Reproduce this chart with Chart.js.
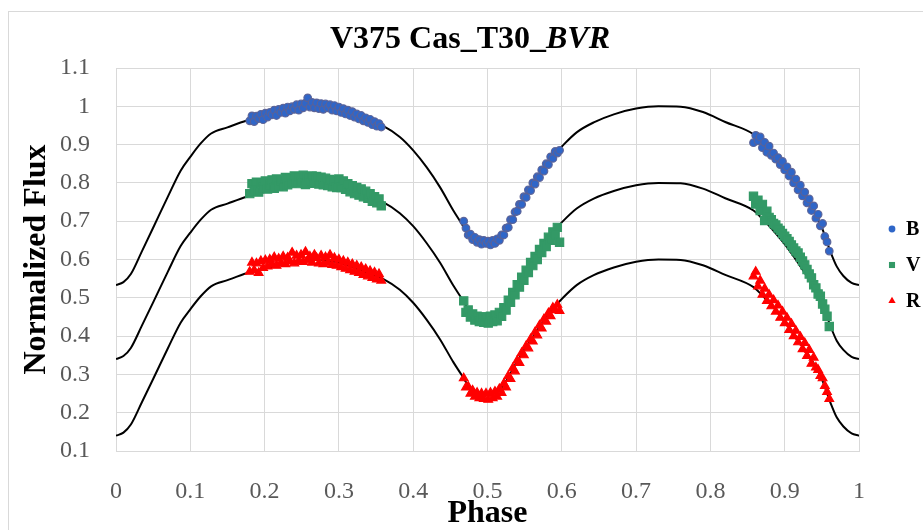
<!DOCTYPE html>
<html>
<head>
<meta charset="utf-8">
<script src="https://cdn.jsdelivr.net/npm/chart.js@4.4.1/dist/chart.umd.min.js"></script>
<style>
  html, body { margin: 0; padding: 0; background: #fff; overflow: hidden; }
  #frame { position: absolute; left: 8px; top: 11px; width: 1000px; height: 1000px; border: 1px solid #d9d9d9; }
  #chart { position: absolute; left: 0; top: 0; }
</style>
</head>
<body>
<div id="frame"></div>
<canvas id="chart" width="923" height="530"></canvas>
<script>
// title and legend text
const titleMain = 'V375 Cas_T30_';
const titleItalic = 'BVR';
const bandNames = ['B', 'V', 'R'];

// axis ticks
const xTickValues = [0, 0.1, 0.2, 0.3, 0.4, 0.5, 0.6, 0.7, 0.8, 0.9, 1];
const xTickLabels = ['0', '0.1', '0.2', '0.3', '0.4', '0.5', '0.6', '0.7', '0.8', '0.9', '1'];
const yTickValues = [0.1, 0.2, 0.3, 0.4, 0.5, 0.6, 0.7, 0.8, 0.9, 1, 1.1];
const yTickLabels = ['0.1', '0.2', '0.3', '0.4', '0.5', '0.6', '0.7', '0.8', '0.9', '1', '1.1'];

// observed phases (same for B, V, R)
const phaseObs = [
  0.180,0.183,0.186,0.189,0.192,0.195,0.198,0.201,0.204,0.207,
  0.210,0.213,0.216,0.219,0.222,0.225,0.228,0.231,0.234,0.237,
  0.240,0.243,0.246,0.249,0.252,0.255,0.258,0.261,0.264,0.267,
  0.270,0.273,0.276,0.279,0.282,0.285,0.288,0.291,0.294,0.297,
  0.300,0.303,0.306,0.309,0.312,0.315,0.318,0.321,0.324,0.327,
  0.330,0.333,0.336,0.339,0.342,0.345,0.348,0.351,0.354,0.357,
  0.468,0.471,0.474,0.477,0.480,0.483,0.486,0.489,0.492,0.495,
  0.498,0.501,0.504,0.507,0.510,0.513,0.516,0.519,0.522,0.525,
  0.528,0.531,0.534,0.537,0.540,0.543,0.546,0.549,0.552,0.555,
  0.558,0.561,0.564,0.567,0.570,0.573,0.576,0.579,0.582,0.585,
  0.588,0.591,0.594,0.597,
  0.858,0.861,0.864,0.867,0.870,0.873,0.876,0.879,0.882,0.885,
  0.888,0.891,0.894,0.897,0.900,0.903,0.906,0.909,0.912,0.915,
  0.918,0.921,0.924,0.927,0.930,0.933,0.936,0.939,0.942,0.945,
  0.948,0.951,0.954,0.957,0.960
];

const fluxB = [
  .962,.975,.960,.974,.968,.979,.965,.982,.972,.984,
  .978,.990,.976,.992,.984,.995,.982,.998,.988,.999,
  .992,1.004,.990,1.006,.996,1.008,1.022,.998,1.010,.996,
  1.009,.994,1.007,.992,1.006,.996,1.004,.990,1.002,.988,
  .998,.984,.994,.980,.990,.976,.986,.972,.980,.967,
  .976,.962,.970,.958,.966,.952,.960,.948,.955,.946,
  .700,.682,.664,.666,.652,.658,.645,.652,.640,.650,
  .642,.648,.638,.650,.642,.654,.650,.664,.664,.682,
  .684,.704,.704,.724,.726,.744,.744,.764,.762,.782,
  .780,.800,.797,.816,.814,.834,.831,.850,.848,.868,
  .864,.882,.878,.885,
  .905,.924,.910,.920,.892,.906,.880,.896,.872,.878,
  .862,.866,.848,.856,.834,.842,.818,.828,.800,.810,
  .782,.794,.766,.776,.748,.758,.728,.740,.708,.718,
  .688,.694,.660,.646,.622
];

const fluxV = [
  .772,.798,.780,.802,.776,.800,.788,.805,.784,.796,
  .808,.786,.810,.792,.806,.790,.814,.795,.812,.800,
  .818,.798,.815,.803,.820,.796,.816,.802,.818,.799,
  .817,.797,.815,.795,.812,.793,.809,.790,.806,.788,
  .810,.788,.805,.783,.798,.777,.793,.772,.788,.768,
  .784,.764,.778,.760,.772,.752,.764,.748,.758,.740,
  .492,.462,.468,.450,.458,.442,.452,.438,.450,.436,
  .450,.434,.452,.438,.455,.440,.462,.452,.474,.468,
  .494,.488,.514,.508,.534,.528,.554,.546,.572,.566,
  .592,.584,.608,.600,.626,.618,.642,.634,.658,.650,
  .672,.664,.684,.645,
  .765,.745,.755,.728,.744,.702,.726,.710,.704,.694,
  .690,.682,.676,.668,.661,.654,.647,.638,.630,.622,
  .617,.606,.596,.586,.574,.562,.552,.534,.526,.510,
  .504,.484,.470,.452,.425
];

const fluxR = [
  .568,.592,.572,.590,.565,.596,.578,.598,.582,.600,
  .588,.606,.584,.602,.590,.608,.588,.605,.595,.618,
  .590,.610,.596,.612,.594,.620,.598,.608,.592,.612,
  .604,.590,.610,.588,.606,.592,.612,.586,.604,.584,
  .600,.580,.596,.576,.592,.572,.588,.568,.584,.565,
  .580,.560,.575,.556,.570,.552,.566,.548,.562,.545,
  .290,.266,.268,.250,.258,.242,.252,.238,.250,.236,
  .250,.234,.252,.238,.255,.242,.262,.252,.276,.266,
  .296,.288,.316,.308,.336,.330,.356,.350,.374,.368,
  .392,.386,.410,.402,.428,.420,.444,.438,.460,.452,
  .474,.468,.482,.466,
  .556,.568,.530,.545,.508,.524,.492,.508,.478,.494,
  .464,.480,.448,.464,.434,.448,.416,.432,.400,.414,
  .384,.398,.366,.382,.348,.364,.328,.344,.318,.312,
  .296,.290,.270,.254,.236
];

// synthetic light curves (model fits)
const phaseModel = [
  0.000,0.010,0.020,0.035,0.050,0.070,0.087,0.100,0.114,0.128,
  0.150,0.176,0.200,0.225,0.250,0.270,0.290,0.310,0.330,0.360,
  0.382,0.400,0.418,0.436,0.454,0.465,0.472,0.480,0.490,0.500,
  0.510,0.520,0.530,0.540,0.550,0.560,0.570,0.580,0.590,0.600,
  0.620,0.643,0.670,0.700,0.730,0.760,0.790,0.820,0.858,0.870,
  0.885,0.900,0.912,0.925,0.939,0.950,0.962,0.970,0.979,0.990,
  1.000
];
const modelB = [
  0.533,0.541,0.562,0.622,0.683,0.765,0.832,0.868,0.903,0.929,
  0.945,0.963,0.976,0.988,0.997,1.000,0.996,0.986,0.971,0.948,
  0.920,0.885,0.841,0.789,0.728,0.694,0.672,0.656,0.647,0.645,
  0.647,0.663,0.695,0.730,0.762,0.792,0.821,0.850,0.874,0.895,
  0.932,0.958,0.979,0.994,1.000,0.999,0.985,0.959,0.927,0.905,
  0.873,0.838,0.805,0.768,0.725,0.683,0.618,0.582,0.557,0.539,
  0.533
];
const modelV = [
  0.340,0.348,0.369,0.428,0.488,0.569,0.635,0.670,0.704,0.730,
  0.746,0.764,0.776,0.788,0.797,0.800,0.796,0.786,0.771,0.749,
  0.721,0.687,0.643,0.592,0.532,0.499,0.477,0.461,0.452,0.450,
  0.452,0.468,0.500,0.534,0.566,0.595,0.624,0.652,0.676,0.697,
  0.733,0.759,0.779,0.794,0.800,0.799,0.785,0.760,0.728,0.706,
  0.675,0.640,0.608,0.571,0.529,0.488,0.424,0.388,0.364,0.346,
  0.340
];
const modelR = [
  0.140,0.148,0.169,0.228,0.288,0.369,0.435,0.470,0.504,0.530,
  0.546,0.564,0.576,0.588,0.597,0.600,0.596,0.586,0.571,0.549,
  0.521,0.487,0.443,0.392,0.332,0.299,0.277,0.261,0.252,0.250,
  0.252,0.268,0.300,0.334,0.366,0.395,0.424,0.452,0.476,0.497,
  0.533,0.559,0.579,0.594,0.600,0.599,0.585,0.560,0.528,0.506,
  0.475,0.440,0.408,0.371,0.329,0.288,0.224,0.188,0.164,0.146,
  0.140
];

const FONT = '"Liberation Serif", "Times New Roman", serif';

function pts(xs, ys) {
  return xs.map((x, i) => ({ x: x, y: ys[i] }));
}

function obsSet(label, ys, style, fill, border, radius) {
  return {
    label: label,
    data: pts(phaseObs, ys),
    showLine: false,
    pointStyle: style,
    pointRadius: radius,
    pointBackgroundColor: fill,
    pointBorderColor: border,
    pointBorderWidth: 1.2,
    backgroundColor: fill,
    borderColor: border,
    order: 0
  };
}

function modelSet(ys) {
  return {
    label: 'model',
    data: pts(phaseModel, ys),
    showLine: true,
    pointRadius: 0,
    borderColor: '#000',
    borderWidth: 2,
    cubicInterpolationMode: 'monotone',
    order: 1
  };
}

// title + small legend on the right
const decorPlugin = {
  id: 'decor',
  afterDraw(chart) {
    const ctx = chart.ctx;
    ctx.save();
    ctx.fillStyle = '#000';
    ctx.textBaseline = 'alphabetic';
    ctx.font = 'bold 32px ' + FONT;
    const w1 = ctx.measureText(titleMain).width;
    ctx.font = 'italic bold 32px ' + FONT;
    const w2 = ctx.measureText(titleItalic).width;
    let tx = 470 - (w1 + w2) / 2;
    ctx.font = 'bold 32px ' + FONT;
    ctx.fillText(titleMain, tx, 48);
    ctx.font = 'italic bold 32px ' + FONT;
    ctx.fillText(titleItalic, tx + w1, 48);

    const marks = [
      { style: 'circle', color: '#2f66c8', r: 3.4 },
      { style: 'rect', color: '#339966', r: 4.3 },
      { style: 'triangle', color: '#ff0000', r: 4.2 }
    ];
    const lx = chart.chartArea.right + 33;
    ctx.font = 'bold 20px ' + FONT;
    ctx.textBaseline = 'middle';
    bandNames.forEach((name, i) => {
      const y = 229 + i * 36;
      ctx.fillStyle = marks[i].color;
      Chart.helpers.drawPoint(ctx, { pointStyle: marks[i].style, radius: marks[i].r, rotation: 0, borderWidth: 0 }, lx, y);
      ctx.fillStyle = '#000';
      ctx.fillText(name, lx + 14, y + 1);
    });
    ctx.restore();
  }
};

new Chart(document.getElementById('chart'), {
  type: 'scatter',
  data: {
    datasets: [
      obsSet('B', fluxB, 'circle', '#2f66c8', 'rgba(92,98,150,0.95)', 3.8),
      obsSet('V', fluxV, 'rect', '#339966', '#339966', 5.8),
      obsSet('R', fluxR, 'triangle', '#ff0000', '#ff0000', 5),
      modelSet(modelB),
      modelSet(modelV),
      modelSet(modelR)
    ]
  },
  options: {
    responsive: false,
    devicePixelRatio: 1,
    animation: false,
    layout: { padding: { left: 8, right: 64, top: 68, bottom: 0 } },
    plugins: {
      legend: { display: false },
      title: { display: false },
      tooltip: { enabled: false }
    },
    scales: {
      x: {
        type: 'linear',
        min: 0,
        max: 1,
        afterBuildTicks: s => { s.ticks = xTickValues.map(v => ({ value: v })); },
        afterFit: s => { s.height = 79; },
        grid: { color: '#d9d9d9', drawTicks: false },
        border: { color: '#d9d9d9' },
        ticks: {
          padding: 26,
          color: '#595959',
          font: { family: FONT, size: 24 },
          maxRotation: 0,
          autoSkip: false,
          callback: (v, i) => xTickLabels[i]
        },
        title: {
          display: true,
          text: 'Phase',
          color: '#000',
          font: { family: FONT, size: 32, weight: 'bold', lineHeight: 1 },
          padding: 0
        }
      },
      y: {
        type: 'linear',
        min: 0.1,
        max: 1.1,
        afterBuildTicks: s => { s.ticks = yTickValues.map(v => ({ value: v })); },
        afterFit: s => { s.width = 108; },
        grid: { color: '#d9d9d9', drawTicks: false },
        border: { color: '#d9d9d9' },
        ticks: {
          padding: 26,
          color: '#595959',
          font: { family: FONT, size: 24 },
          autoSkip: false,
          callback: (v, i) => yTickLabels[i]
        },
        title: {
          display: true,
          text: 'Normalized Flux',
          color: '#000',
          font: { family: FONT, size: 32, weight: 'bold', lineHeight: 1 },
          padding: { top: 13, bottom: 0 }
        }
      }
    }
  },
  plugins: [decorPlugin]
});
</script>
</body>
</html>
